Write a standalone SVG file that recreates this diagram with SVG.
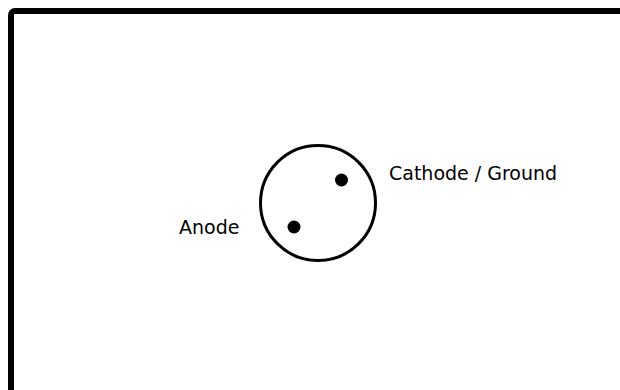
<svg xmlns="http://www.w3.org/2000/svg" width="620" height="390" viewBox="0 0 620 390">
<style>
.lbl{font-family:"DejaVu Sans","Verdana",sans-serif;font-size:19px;fill:#000}
.pin{fill:#000}
</style>
<rect width="620" height="390" fill="#fff"/>
<g id="frame">
<rect x="11" y="11" width="640" height="420" rx="4" fill="none" stroke="#000" stroke-width="6"/>
</g>
<g id="connector">
<circle cx="318" cy="203" r="57.5" fill="none" stroke="#000" stroke-width="3"/>
<circle class="pin" cx="341.5" cy="180" r="6.5"/>
<circle class="pin" cx="294" cy="227" r="6.5"/>
</g>
<g id="labels">
<text class="lbl" x="389" y="180">Cathode / Ground</text>
<text class="lbl" x="179" y="234">Anode</text>
</g>
</svg>
